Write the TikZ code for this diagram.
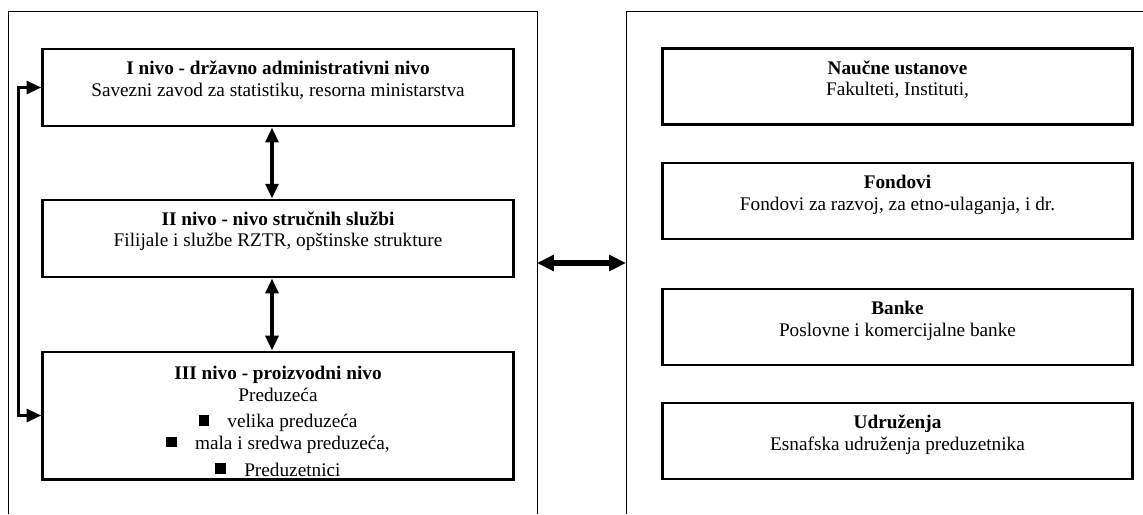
\documentclass[tikz,border=0pt]{standalone}
\usepackage{fontspec}
\setmainfont{Liberation Serif}
\usetikzlibrary{arrows.meta,positioning}

\newcommand{\lvlbullet}{\rule[1.5pt]{7.5pt}{7.5pt}\hspace{13pt}}

\begin{document}
\begin{tikzpicture}[x=0.025cm,y=-0.025cm,
	font=\fontsize{13.7}{15.4}\selectfont,
	panel/.style={line width=0.6pt},
	lvlbox/.style={draw,line width=2.1pt,minimum width=11.75cm,minimum height=1.925cm,inner sep=0pt},
	txt/.style={align=center,inner sep=0pt,anchor=north},
	biarrow/.style={{Triangle[length=10.5pt,width=9pt]}-{Triangle[length=10.5pt,width=9pt]},line width=2.5pt},
	widearrow/.style={{Triangle[length=12pt,width=11pt]}-{Triangle[length=12pt,width=11pt]},line width=4pt}]
	\useasboundingbox (0,0) rectangle (1143,514);

	% the two frames, open at the bottom
	\draw[panel] (8,514) |- (537,11) -- (537,514);
	\draw[panel] (626,514) |- (1143,11);
	\coordinate (lp) at (537,263);
	\coordinate (rp) at (626,263);

	% left side: levels
	\node[lvlbox] (lvl1) at (278,87.5) {};
	\node[lvlbox] (lvl2) at (278,238.5) {};
	\node[lvlbox,minimum height=3.175cm] (lvl3) at (278,415.5) {};

	\node[txt] (t1) at ([yshift=-9.5pt]lvl1.north) {\textbf{I nivo - državno administrativni nivo}\\Savezni zavod za statistiku, resorna ministarstva};
	\node[txt] (t2) at ([yshift=-9pt]lvl2.north) {\textbf{II nivo - nivo stručnih službi}\\Filijale i službe RZTR, opštinske strukture};
	\node[txt] (t3) at ([yshift=-11pt]lvl3.north) {\textbf{III nivo - proizvodni nivo}\\Preduzeća\\[3.5pt]
		\lvlbullet velika preduzeća\\
		\lvlbullet mala i sredwa preduzeća,\\[3.5pt]
		\lvlbullet Preduzetnici};

	% right side: institutions
	\node[lvlbox,minimum width=11.725cm,minimum height=1.9cm] (inst) at (897.5,86.5) {};
	\node[lvlbox,minimum width=11.725cm,minimum height=1.9cm] (fond) at (897.5,201) {};
	\node[lvlbox,minimum width=11.725cm,minimum height=1.9cm] (bank) at (897.5,327) {};
	\node[lvlbox,minimum width=11.725cm,minimum height=1.9cm] (udr) at (897.5,441) {};

	\node[txt] (t4) at ([yshift=-9.5pt]inst.north) {\textbf{Naučne ustanove}\\Fakulteti, Instituti,};
	\node[txt] (t5) at ([yshift=-9.5pt]fond.north) {\textbf{Fondovi}\\Fondovi za razvoj, za etno-ulaganja, i dr.};
	\node[txt] (t6) at ([yshift=-9.5pt]bank.north) {\textbf{Banke}\\Poslovne i komercijalne banke};
	\node[txt] (t7) at ([yshift=-9.5pt]udr.north) {\textbf{Udruženja}\\Esnafska udruženja preduzetnika};

	\coordinate (vax) at (272,0);
\draw[biarrow] (lvl1.south -| vax) -- (lvl2.north -| vax);
\draw[biarrow] (lvl2.south -| vax) -- (lvl3.north -| vax);
\draw[biarrow] (lvl3.west) -- ++(-23,0) |- (lvl1.west);
\draw[widearrow] (lp) -- (rp);

\end{tikzpicture}
\end{document}
